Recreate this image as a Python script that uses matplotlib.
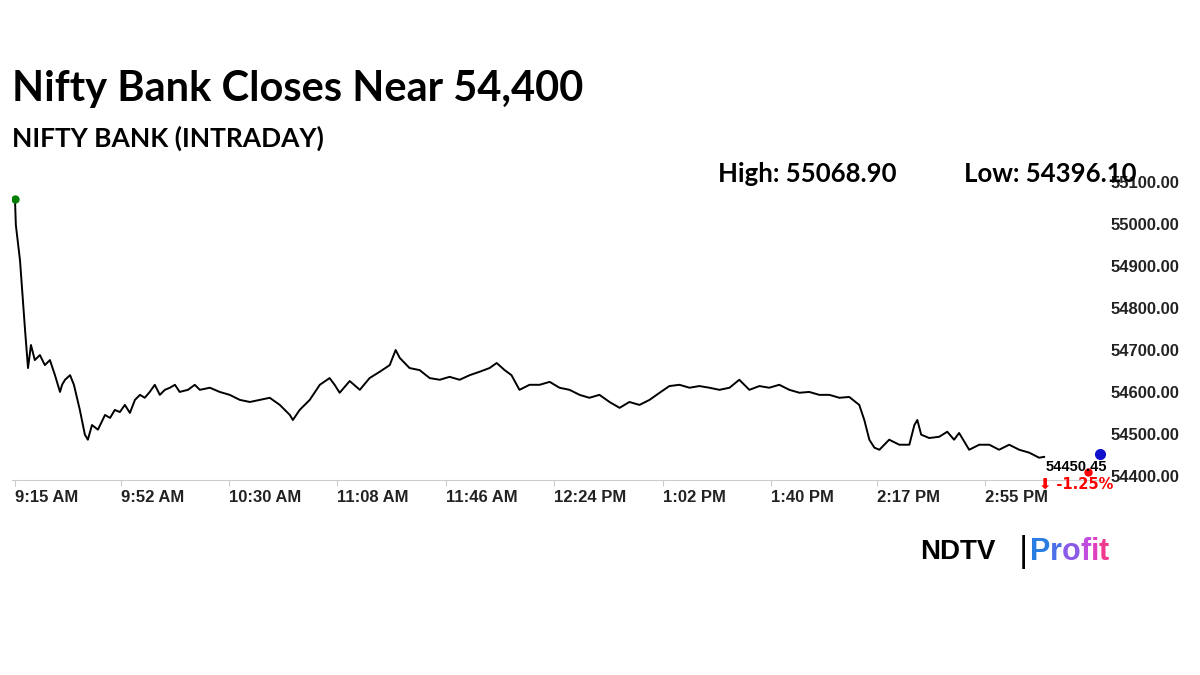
import matplotlib
matplotlib.use("Agg")
import matplotlib.pyplot as plt
import matplotlib.transforms as mtransforms

minutes = [0, 0.3, 1.7, 3.4, 4.4, 5.4, 6.7, 8.4, 10.1, 11.8, 13.5, 15.2, 15.9, 16.9, 18.6, 19.9, 21.9, 23.6, 24.6,
           26, 28, 30.4, 32.1, 33.7, 35.4, 37.1, 38.8, 40.5, 42.2, 43.8, 45.5, 47.2, 48.9, 50.6, 52.3, 54, 55.6,
           58.4, 60.7, 62.4, 65.8, 69.1, 72.5, 75.9, 79.3, 82.6, 86, 89.4, 92.8, 93.8, 96.1, 99.5, 102.9, 106.2,
           107.9, 109.6, 113, 116.4, 119.7, 123.1, 126.5, 128.5, 129.9, 133.2, 136.6, 140, 143.4, 146.7, 150.1,
           153.5, 156.8, 160.2, 162.6, 165.3, 167.6, 170.3, 173.7, 177.1, 180.5, 183.8, 187.2, 190.6, 193.9,
           197.3, 200.7, 204.1, 207.4, 210.8, 214.2, 217.6, 220.9, 224.3, 227.7, 231, 234.4, 237.8, 241.2,
           244.5, 247.9, 251.3, 254.6, 258, 261.4, 264.8, 268.1, 271.5, 274.9, 278.3, 281.6, 285, 286.7, 288.4,
           290.1, 291.8, 295.1, 298.5, 301.9, 303.6, 304.6, 305.9, 308.6, 312, 314.7, 317, 318.7, 322.1, 325.5,
           328.9, 332.2, 335.6, 339, 342.4, 345.7, 347.4]
minutes = [m * 1.038 for m in minutes]
prices = [55060, 54998, 54914, 54748, 54657, 54712, 54676, 54688, 54664, 54676, 54640, 54600, 54617, 54629,
          54640, 54617, 54557, 54498, 54486, 54521, 54510, 54545, 54538, 54557, 54552, 54569, 54550, 54581,
          54593, 54586, 54600, 54617, 54593, 54605, 54610, 54617, 54600, 54605, 54617, 54605, 54610, 54600,
          54593, 54581, 54576, 54581, 54586, 54569, 54545, 54533, 54557, 54581, 54617, 54633, 54617, 54598,
          54626, 54605, 54633, 54648, 54664, 54700, 54681, 54657, 54652, 54633, 54629, 54636, 54629, 54640,
          54648, 54657, 54669, 54652, 54640, 54605, 54617, 54617, 54624, 54610, 54605, 54593, 54586, 54593,
          54576, 54562, 54576, 54569, 54581, 54598, 54614, 54617, 54610, 54614, 54610, 54605, 54610, 54629,
          54605, 54614, 54610, 54617, 54605, 54598, 54600, 54593, 54593, 54586, 54588, 54569, 54533, 54486,
          54467, 54462, 54486, 54474, 54474, 54521, 54533, 54498, 54490, 54493, 54505, 54486, 54502, 54462,
          54474, 54474, 54462, 54474, 54462, 54455, 54443, 54445]
high_label, low_label = "High: 55068.90", "Low: 54396.10"
close_min, close_val = 380.2, 54452
last_label, change_label = "54450.45", "\u2b07 -1.25%"
tick_minutes = [0, 37, 75, 113, 151, 189, 227, 265, 302, 340]
tick_labels = ["9:15 AM", "9:52 AM", "10:30 AM", "11:08 AM", "11:46 AM", "12:24 PM", "1:02 PM", "1:40 PM", "2:17 PM", "2:55 PM"]
y_ticks = [54400, 54500, 54600, 54700, 54800, 54900, 55000, 55100]

fig = plt.figure(figsize=(12, 6.75), dpi=100)
ax = fig.add_axes([0.01, 0.289, 0.911, 0.447])
ax.plot(minutes, prices, color="black", lw=1.4)
ax.plot([minutes[0]], [prices[0]], "o", color="green", ms=5)
ax.plot([close_min], [close_val], "o", color="#1010cc", ms=7)
ax.set_xlim(-1.04, 382)
ax.set_ylim(54390, 55110)
for s in ["top", "left", "right"]:
    ax.spines[s].set_visible(False)
ax.spines["bottom"].set_color("#cccccc")
ax.yaxis.tick_right()
ax.set_yticks(y_ticks)
ax.set_yticklabels([f"{v:.2f}" for v in y_ticks], fontsize=12, fontweight="bold", family="Liberation Sans", color="#222222")
ax.tick_params(axis="y", length=0, pad=4)
ax.set_xticks(tick_minutes)
ax.set_xticklabels(tick_labels, fontsize=12, fontweight="bold", family="Liberation Sans", color="#222222", ha="left")
off = mtransforms.ScaledTranslation(-4 / 100, 0, fig.dpi_scale_trans)
for lbl in ax.get_xticklabels():
    lbl.set_transform(lbl.get_transform() + off)
ax.tick_params(axis="x", length=4, color="#cccccc", pad=3)
ax.text(372, 54420, last_label, ha="center", va="center", fontsize=10.5, fontweight="bold", family="Liberation Sans")
ax.text(372, 54380, change_label, ha="center", va="center", fontsize=10.5, fontweight="bold", color="red", family="DejaVu Sans")
ax.plot([376], [54410], "o", color="red", ms=5, clip_on=False)

fig.text(0.01, 0.868, "Nifty Bank Closes Near 54,400", fontsize=30, fontweight="bold", family="Lato", va="center")
fig.text(0.01, 0.795, "NIFTY BANK (INTRADAY)", fontsize=19, fontweight="bold", family="Lato", va="center")
fig.text(0.598, 0.742, high_label, fontsize=18.5, fontweight="bold", family="Lato", va="center")
fig.text(0.803, 0.742, low_label, fontsize=18.5, fontweight="bold", family="Lato", va="center")

fig.text(0.767, 0.182, "NDTV", fontsize=20, fontweight="bold", family="Liberation Sans", va="center")
fig.text(0.848, 0.182, "|", fontsize=24, family="DejaVu Sans", va="center")
cols = ["#2a7de1", "#4a6fe6", "#8a5ae8", "#c04de0", "#e040c0", "#f03a90"]
xpos = 0.858
for ch, c in zip("Profit", cols):
    t = fig.text(xpos, 0.182, ch, fontsize=22, fontweight="bold", family="Liberation Sans", color=c, va="center")
    fig.canvas.draw()
    bb = t.get_window_extent()
    xpos += bb.width / fig.bbox.width
fig.savefig("out.png", dpi=100)
